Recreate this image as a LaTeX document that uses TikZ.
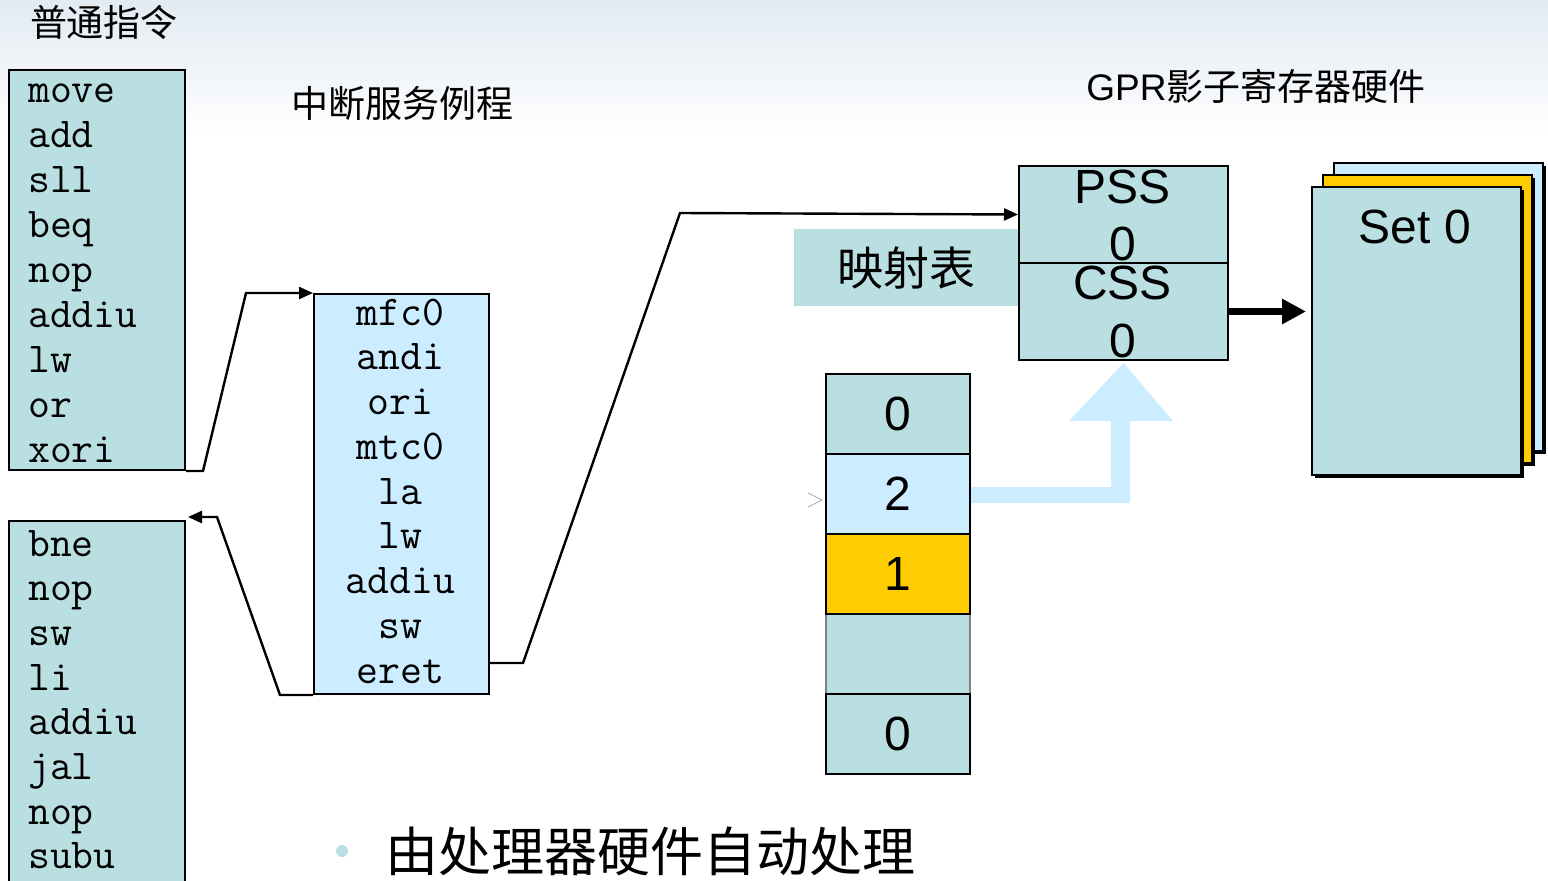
\documentclass[tikz,border=0pt]{standalone}
\usepackage{fontspec}
\setmainfont{Liberation Sans}
\newfontfamily\cjk{Noto Sans CJK SC}
\usetikzlibrary{arrows.meta,calc,shadows}

\definecolor{boxteal}{RGB}{186,223,226}
\definecolor{boxblue}{RGB}{204,236,255}
\definecolor{boxgold}{RGB}{255,204,0}
\definecolor{bgtop}{RGB}{226,234,242}
\definecolor{chevgray}{RGB}{170,170,170}

\tikzset{
  instr/.style={font=\ttfamily\fontsize{42.5}{44}\selectfont, inner sep=0, anchor=base west},
  instrc/.style={font=\ttfamily\fontsize{42.5}{44}\selectfont, inner sep=0, anchor=base},
  codebox/.style={draw, line width=2pt, inner sep=0, anchor=north west, minimum width=176pt},
  conn/.style={line width=2.4pt, -{Triangle[length=14pt,width=12pt]}},
  regbox/.style={draw, line width=2pt, fill=boxteal, inner sep=0, anchor=north west,
                 minimum width=209pt, minimum height=97pt},
  regtxt/.style={font=\fontsize{48}{50}\selectfont, inner sep=0, anchor=base},
  cell/.style={draw, line width=2pt, inner sep=0, anchor=north west,
               minimum width=144pt, minimum height=80pt, font=\fontsize{48}{50}\selectfont},
  page/.style={draw, line width=1.5pt, inner sep=0, anchor=north west,
               minimum width=209pt, minimum height=288pt,
               drop shadow={shadow xshift=3.5pt, shadow yshift=-3.5pt, fill=black, opacity=1}},
  title/.style={font=\cjk\fontsize{37}{40}\selectfont, inner sep=0},
}

\begin{document}
\begin{tikzpicture}[x=1pt,y=-1pt]
\useasboundingbox (0,0) rectangle (1548,881);
\clip (0,0) rectangle (1548,881);

% header band
\shade[top color=bgtop, bottom color=white] (0,0) rectangle (1548,140);

% headings
\node[title] (hnormal) at (104,22) {普通指令};
\node[title] (hisr) at (402,103) {中断服务例程};
\node[title, anchor=base] (hgpr) at (1256,100) {\fontspec{Liberation Sans}GPR\cjk 影子寄存器硬件};

% ordinary instruction stream, first part
\node[codebox, fill=boxteal, minimum height=400pt] (b1) at (8,69) {};
\foreach \w [count=\i] in {move,add,sll,beq,nop,addiu,lw,or,xori}
  \node[instr] (b1l\i) at (28,{102+45*(\i-1)}) {\w};

% ordinary instruction stream, second part
\node[codebox, fill=boxteal, minimum height=380pt] (b2) at (8,520) {};
\foreach \w [count=\i] in {bne,nop,sw,li,addiu,jal,nop,subu}
  \node[instr] (b2l\i) at (28,{556+44.7*(\i-1)}) {\w};

% interrupt service routine
\node[codebox, fill=boxblue, minimum width=175pt, minimum height=400pt] (isr) at (313,293) {};
\foreach \w [count=\i] in {mfc0,andi,ori,mtc0,la,lw,addiu,sw,eret}
  \node[instrc] (isrl\i) at (400.5,{325+44.75*(\i-1)}) {\w};

% control flow
\draw[conn] (b1.south east) -- ++(17,0) -- (246,293) -- (isr.north west);
\draw[conn] (isr.south west) -- ++(-33,0) -- (217,517) -- ($(b2.north east)+(2,-3)$);

% mapping table
\node[fill=boxteal, inner sep=0, anchor=north west, minimum width=224pt, minimum height=77pt,
      font=\cjk\fontsize{46}{50}\selectfont] (map) at (794,229) {映射表};

\node[regbox] (pss) at (1018,165) {};
\node[regbox] (css) at (1018,262) {};
\node[regtxt] (psst) at (1122.5,203) {PSS};
\node[regtxt] (pssv) at (1122.5,260) {0};
\node[regtxt] (csst) at (1122.5,299) {CSS};
\node[regtxt] (cssv) at (1122.5,357) {0};

\draw[conn] ($(isr.south east)+(0,-32)$) -- ++(33,0) -- (680,213) -- (pss.west);

% shadow register sets
\node[page, fill=boxblue] (set2) at (1333,162) {};
\node[page, fill=boxgold] (set1) at (1322,174) {};
\node[page, fill=boxteal] (set0) at (1311,186) {};
\node[regtxt] (set0t) at (1415,243) {Set 0};

\draw[line width=7pt, -{Triangle[length=24pt,width=24pt]}] (css.east) -- ($(set0.west |- css.east)+(-5,0)$);

% SRSCtl stack
\node[cell, fill=boxteal, draw=gray, line width=1.5pt] (c4) at (825,613) {};
\node[cell, fill=boxteal] (c1) at (825,373) {0};
\node[cell, fill=boxblue] (c2) at (825,453) {2};
\node[cell, fill=boxgold] (c3) at (825,533) {1};
\node[cell, fill=boxteal] (c5) at (825,693) {0};
\draw[chevgray, line width=0.8pt] (808,493) -- (822,500) -- (808,507);

% selection arrow into CSS
\fill[boxblue] (c2.east |- 0,487) -- (1111,487) -- (1111,421) -- (1069,421)
  -- ($(css.south)+(0,2)$) -- (1173,421) -- (1130,421) -- (1130,503)
  -- (c2.east |- 0,503) -- cycle;

% bullet line
\node[circle, fill=boxteal, inner sep=0, minimum size=12pt] (dot) at (342,851) {};
\node[font=\cjk\fontsize{53}{56}\selectfont, inner sep=0] (note) at (650,851) {由处理器硬件自动处理};
\end{tikzpicture}
\end{document}
